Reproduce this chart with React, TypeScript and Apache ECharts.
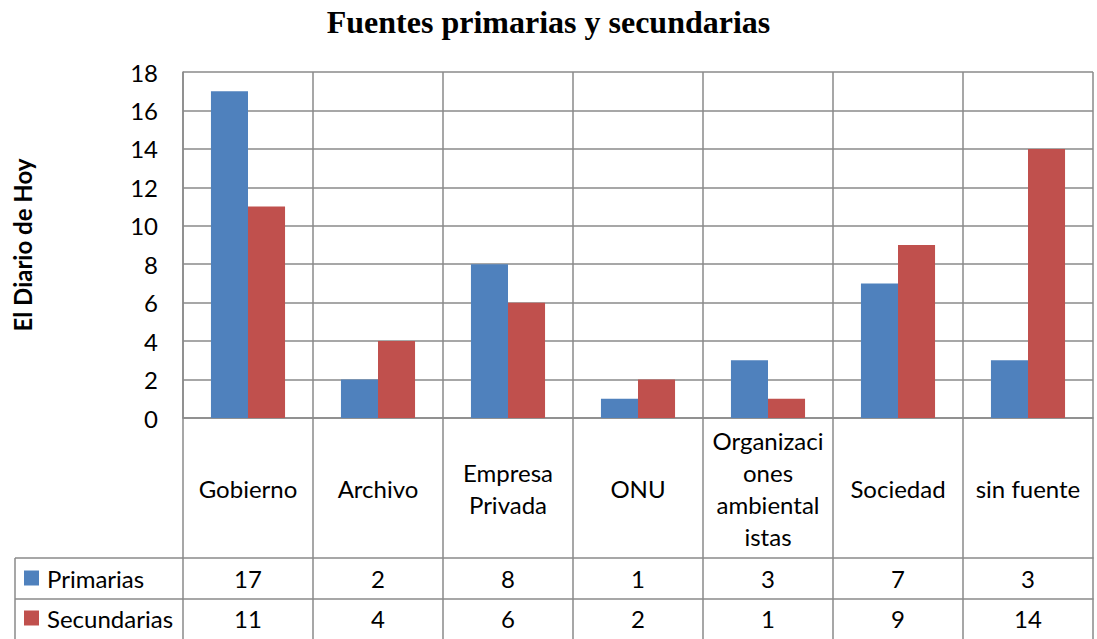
import React, { useEffect, useRef } from "react";
import * as echarts from "echarts";

const categories = ["Gobierno", "Archivo", "Empresa Privada", "ONU", "Organizaciones ambientalistas", "Sociedad", "sin fuente"];
const wrappedLabels: Record<string, string> = {
  "Empresa Privada": "Empresa\nPrivada",
  "Organizaciones ambientalistas": "Organizaci\nones\nambiental\nistas",
};
const primarias = [17, 2, 8, 1, 3, 7, 3];
const secundarias = [11, 4, 6, 2, 1, 9, 14];
const seriesNames = ["Primarias", "Secundarias"];
const yTicks = { min: 0, max: 18, interval: 2 };

const GRID_LEFT = 183;
const GRID_RIGHT_PX = 1093;
const GRID_TOP = 72;
const GRID_BOTTOM_PX = 418;
const ROW1 = 558;
const ROW2 = 599;
const TABLE_BOTTOM = 639;
const LINE = "#8a8a8a";
const FONT = "Lato";

export default function App() {
  const ref = useRef<HTMLDivElement>(null);
  useEffect(() => {
    if (!ref.current) return;
    const chart = echarts.init(ref.current, undefined, { renderer: "svg" });
    const W = 1097;
    const H = 639;
    const valueAxis = (data: number[], offset: number, margin: number) => ({
      type: "category",
      data: categories,
      gridIndex: 0,
      position: "bottom",
      offset,
      axisLine: { show: true, lineStyle: { color: LINE, width: 1.5 } },
      axisTick: { show: false },
      splitLine: { show: false },
      axisLabel: {
        margin,
        verticalAlign: "middle",
        fontFamily: FONT,
        fontSize: 24,
        color: "#000",
        interval: 0,
        formatter: (_v: string, i: number) => String(data[i]),
      },
    });
    const legendFor = (name: string, top: number) => ({
      orient: "horizontal",
      left: 19,
      top,
      padding: 5,
      itemWidth: 15,
      itemHeight: 15,
      icon: "rect",
      textStyle: { fontFamily: FONT, fontSize: 24, color: "#000", padding: [0, 0, 0, 3] },
      data: [name],
    });
    chart.setOption({
      animation: false,
      backgroundColor: "#fff",
      title: {
        text: "Fuentes primarias y secundarias",
        left: "center",
        top: 1,
        textStyle: { fontFamily: "Liberation Serif", fontWeight: "bold", fontSize: 32, color: "#000" },
      },
      legend: [legendFor(seriesNames[0], 561), legendFor(seriesNames[1], 601)],
      grid: {
        left: GRID_LEFT,
        right: W - GRID_RIGHT_PX,
        top: GRID_TOP,
        bottom: H - GRID_BOTTOM_PX,
        containLabel: false,
        outerBoundsMode: "none",
      },
      xAxis: [
        {
          type: "category",
          data: categories,
          position: "bottom",
          axisLine: { show: true, lineStyle: { color: LINE, width: 1.5 } },
          axisTick: { show: true, length: TABLE_BOTTOM - GRID_BOTTOM_PX, lineStyle: { color: LINE, width: 1.5 } },
          splitLine: { show: true, lineStyle: { color: LINE, width: 1.5 } },
          axisLabel: {
            margin: 70,
            verticalAlign: "middle",
            interval: 0,
            fontFamily: FONT,
            fontSize: 24,
            lineHeight: 32,
            color: "#000",
            formatter: (v: string) => wrappedLabels[v] || v,
          },
        },
        valueAxis(primarias, ROW1 - GRID_BOTTOM_PX, 20),
        valueAxis(secundarias, ROW2 - GRID_BOTTOM_PX, 19),
      ],
      yAxis: {
        type: "value",
        min: yTicks.min,
        max: yTicks.max,
        interval: yTicks.interval,
        name: "El Diario de Hoy",
        nameLocation: "middle",
        nameRotate: 90,
        nameGap: 149,
        nameTextStyle: { fontFamily: FONT, fontWeight: "bold", fontSize: 24, color: "#000" },
        axisLine: { show: true, lineStyle: { color: LINE, width: 1.5 } },
        axisTick: { show: false },
        splitLine: { show: true, lineStyle: { color: LINE, width: 1.5 } },
        axisLabel: { margin: 25, fontFamily: FONT, fontSize: 24, color: "#000" },
      },
      series: [
        {
          name: seriesNames[0],
          type: "bar",
          data: primarias,
          barGap: "0%",
          barCategoryGap: "43%",
          itemStyle: { color: "#4F81BD" },
        },
        {
          name: seriesNames[1],
          type: "bar",
          data: secundarias,
          barGap: "0%",
          barCategoryGap: "43%",
          itemStyle: { color: "#C0504D" },
        },
      ],
      graphic: [
        { type: "line", shape: { x1: 15, y1: ROW1, x2: GRID_LEFT, y2: ROW1 }, style: { stroke: LINE, lineWidth: 1.5 } },
        { type: "line", shape: { x1: 15, y1: ROW2, x2: GRID_LEFT, y2: ROW2 }, style: { stroke: LINE, lineWidth: 1.5 } },
        { type: "line", shape: { x1: 15, y1: ROW1, x2: 15, y2: TABLE_BOTTOM }, style: { stroke: LINE, lineWidth: 1.5 } },
      ],
    });
    return () => chart.dispose();
  }, []);
  return (
    <div
      ref={ref}
      style={{ position: "fixed", left: 0, top: 0, width: 1097, height: 639, background: "#fff" }}
    />
  );
}
